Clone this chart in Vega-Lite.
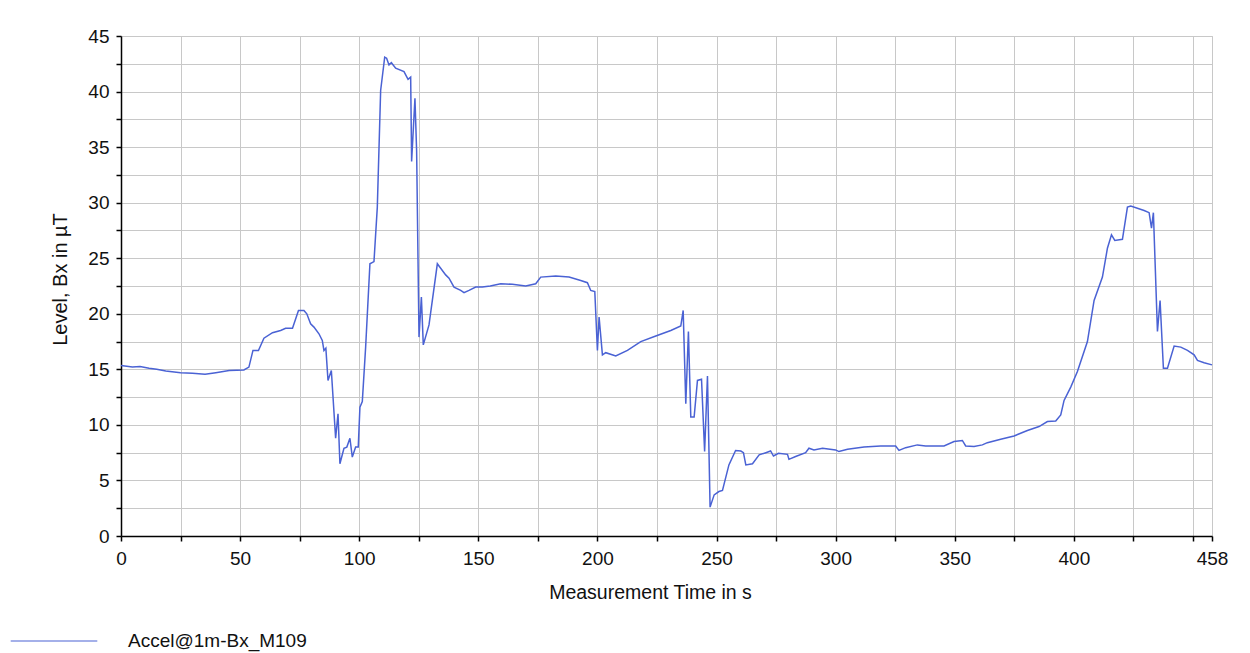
{
  "$schema": "https://vega.github.io/schema/vega-lite/v6.json",
  "autosize": "none",
  "width": 1091,
  "height": 500,
  "padding": {"left": 121, "top": 36, "right": 38, "bottom": 117},
  "background": "white",
  "config": {
    "font": "Liberation Sans",
    "view": {"stroke": "#c8c8c8", "strokeWidth": 1}
  },
  "data": {
    "values": [
      {"t": 0, "v": 15.35}, {"t": 4.8, "v": 15.2}, {"t": 8, "v": 15.25}, {"t": 11.8, "v": 15.1},
      {"t": 15, "v": 15.0}, {"t": 18.8, "v": 14.85}, {"t": 25, "v": 14.7}, {"t": 30, "v": 14.65},
      {"t": 35.3, "v": 14.55}, {"t": 39.8, "v": 14.7}, {"t": 45.4, "v": 14.9}, {"t": 51.6, "v": 14.95},
      {"t": 53.7, "v": 15.2}, {"t": 55.4, "v": 16.7}, {"t": 57.7, "v": 16.7}, {"t": 60, "v": 17.8},
      {"t": 63.6, "v": 18.3}, {"t": 67, "v": 18.5}, {"t": 69.1, "v": 18.7}, {"t": 72, "v": 18.7},
      {"t": 74.5, "v": 20.3}, {"t": 76.8, "v": 20.3}, {"t": 78, "v": 20.0}, {"t": 79.6, "v": 19.1},
      {"t": 81, "v": 18.8}, {"t": 83.1, "v": 18.2}, {"t": 84.5, "v": 17.6}, {"t": 85.2, "v": 16.7},
      {"t": 86, "v": 16.9}, {"t": 86.9, "v": 14.0}, {"t": 88.3, "v": 14.9}, {"t": 90.1, "v": 8.8},
      {"t": 91.1, "v": 11.0}, {"t": 91.9, "v": 6.5}, {"t": 93.6, "v": 7.9}, {"t": 94.8, "v": 8.0},
      {"t": 96.1, "v": 8.8}, {"t": 97.1, "v": 7.1}, {"t": 98.5, "v": 8.0}, {"t": 99.6, "v": 8.0},
      {"t": 100.3, "v": 11.6}, {"t": 101.3, "v": 12.1}, {"t": 102.7, "v": 17.0}, {"t": 104.5, "v": 24.5},
      {"t": 106.2, "v": 24.7}, {"t": 107.6, "v": 29.6}, {"t": 109, "v": 40.1}, {"t": 110.7, "v": 43.1},
      {"t": 111.5, "v": 43.0}, {"t": 112.5, "v": 42.4}, {"t": 113.5, "v": 42.6}, {"t": 115.3, "v": 42.1},
      {"t": 118.8, "v": 41.8}, {"t": 120.5, "v": 41.1}, {"t": 121.6, "v": 41.3}, {"t": 122, "v": 33.7},
      {"t": 123.4, "v": 39.4}, {"t": 124.1, "v": 34.7}, {"t": 125.1, "v": 17.9}, {"t": 126.1, "v": 21.5},
      {"t": 126.9, "v": 17.2}, {"t": 129.3, "v": 19.0}, {"t": 132.8, "v": 24.5}, {"t": 134.2, "v": 24.1},
      {"t": 136.3, "v": 23.5}, {"t": 137.7, "v": 23.2}, {"t": 139.8, "v": 22.4}, {"t": 142.6, "v": 22.1},
      {"t": 144, "v": 21.9}, {"t": 146.1, "v": 22.1}, {"t": 148.9, "v": 22.4}, {"t": 151.7, "v": 22.4},
      {"t": 155, "v": 22.5}, {"t": 159.4, "v": 22.7}, {"t": 164.3, "v": 22.65}, {"t": 169.9, "v": 22.5},
      {"t": 174.1, "v": 22.7}, {"t": 176.2, "v": 23.3}, {"t": 182.5, "v": 23.4}, {"t": 188.1, "v": 23.3},
      {"t": 193, "v": 23.0}, {"t": 195.8, "v": 22.8}, {"t": 197.2, "v": 22.1}, {"t": 198.9, "v": 22.0},
      {"t": 200, "v": 16.7}, {"t": 200.7, "v": 19.7}, {"t": 202.1, "v": 16.3}, {"t": 203.5, "v": 16.5},
      {"t": 207.7, "v": 16.2}, {"t": 212.6, "v": 16.7}, {"t": 218.2, "v": 17.5}, {"t": 224.5, "v": 18.0},
      {"t": 230.8, "v": 18.5}, {"t": 235, "v": 18.9}, {"t": 236, "v": 20.3}, {"t": 237.1, "v": 11.9},
      {"t": 238.2, "v": 18.4}, {"t": 239.2, "v": 10.7}, {"t": 240.6, "v": 10.7}, {"t": 242, "v": 14.0},
      {"t": 243.7, "v": 14.1}, {"t": 245, "v": 7.6}, {"t": 246.2, "v": 14.4}, {"t": 247.3, "v": 2.6},
      {"t": 249, "v": 3.7}, {"t": 251, "v": 4.0}, {"t": 252.5, "v": 4.1}, {"t": 255.2, "v": 6.4},
      {"t": 258, "v": 7.7}, {"t": 260.2, "v": 7.65}, {"t": 261.3, "v": 7.5}, {"t": 262.3, "v": 6.4},
      {"t": 265.1, "v": 6.5}, {"t": 267.9, "v": 7.3}, {"t": 270.7, "v": 7.5}, {"t": 272.7, "v": 7.65},
      {"t": 273.9, "v": 7.2}, {"t": 276, "v": 7.45}, {"t": 279.8, "v": 7.35}, {"t": 280.4, "v": 6.9},
      {"t": 283.2, "v": 7.15}, {"t": 287.4, "v": 7.5}, {"t": 288.8, "v": 7.9}, {"t": 290.9, "v": 7.75},
      {"t": 294.5, "v": 7.9}, {"t": 300, "v": 7.75}, {"t": 301.4, "v": 7.6}, {"t": 305, "v": 7.8},
      {"t": 311.9, "v": 8.0}, {"t": 318.9, "v": 8.1}, {"t": 325.2, "v": 8.1}, {"t": 326.6, "v": 7.7},
      {"t": 329.4, "v": 7.95}, {"t": 334.3, "v": 8.2}, {"t": 337.8, "v": 8.1}, {"t": 345.5, "v": 8.1},
      {"t": 349.7, "v": 8.5}, {"t": 353.2, "v": 8.6}, {"t": 354.6, "v": 8.1}, {"t": 358.1, "v": 8.05},
      {"t": 361.6, "v": 8.2}, {"t": 363.7, "v": 8.4}, {"t": 369.3, "v": 8.7}, {"t": 374.9, "v": 9.0},
      {"t": 380.5, "v": 9.5}, {"t": 385.4, "v": 9.85}, {"t": 388.9, "v": 10.3}, {"t": 392.4, "v": 10.35},
      {"t": 394.5, "v": 10.9}, {"t": 395.9, "v": 12.2}, {"t": 398.7, "v": 13.4}, {"t": 401.5, "v": 14.8},
      {"t": 405.7, "v": 17.5}, {"t": 408.5, "v": 21.2}, {"t": 412, "v": 23.3}, {"t": 414.1, "v": 25.9},
      {"t": 415.8, "v": 27.1}, {"t": 417.2, "v": 26.6}, {"t": 420.4, "v": 26.7}, {"t": 422.5, "v": 29.6},
      {"t": 423.9, "v": 29.7}, {"t": 429.5, "v": 29.3}, {"t": 431.6, "v": 29.1}, {"t": 432.6, "v": 27.7},
      {"t": 433.4, "v": 29.1}, {"t": 435.1, "v": 18.4}, {"t": 436.2, "v": 21.2}, {"t": 437.6, "v": 15.1},
      {"t": 439.3, "v": 15.1}, {"t": 442.1, "v": 17.1}, {"t": 444.9, "v": 17.0}, {"t": 447.7, "v": 16.7},
      {"t": 450.5, "v": 16.3}, {"t": 451.9, "v": 15.8}, {"t": 454.7, "v": 15.6}, {"t": 458, "v": 15.4}
    ]
  },
  "transform": [{"calculate": "'Accel@1m-Bx_M109'", "as": "series"}],
  "mark": {"type": "line", "strokeWidth": 1.5, "interpolate": "linear"},
  "encoding": {
    "x": {
      "field": "t",
      "type": "quantitative",
      "scale": {"domain": [0, 458], "nice": false, "zero": false},
      "axis": {
        "title": "Measurement Time in s",
        "titleX": 529,
        "values": [0, 25, 50, 75, 100, 125, 150, 175, 200, 225, 250, 275, 300, 325, 350, 375, 400, 425, 450, 458],
        "labelExpr": "(datum.value % 50 == 0 && datum.value != 450) || datum.value == 458 ? datum.label : ''",
        "labelFlush": false,
        "labelFontSize": 19,
        "labelColor": "#111",
        "labelPadding": 8,
        "labelOverlap": false,
        "titleFontSize": 19.5,
        "titleFontWeight": "normal",
        "titleColor": "#111",
        "titlePadding": 15,
        "domainColor": "black",
        "domainWidth": 1.5,
        "tickColor": "black",
        "tickWidth": 1.5,
        "tickSize": 5,
        "grid": true,
        "gridColor": "#c8c8c8",
        "gridWidth": 1
      }
    },
    "y": {
      "field": "v",
      "type": "quantitative",
      "scale": {"domain": [0, 45], "nice": false},
      "axis": {
        "title": "Level, Bx in µT",
        "titleY": 243,
        "values": [0, 2.5, 5, 7.5, 10, 12.5, 15, 17.5, 20, 22.5, 25, 27.5, 30, 32.5, 35, 37.5, 40, 42.5, 45],
        "labelExpr": "datum.value % 5 == 0 ? datum.label : ''",
        "labelFlush": false,
        "labelFontSize": 19,
        "labelColor": "#111",
        "labelPadding": 7,
        "labelOverlap": false,
        "titleFontSize": 20,
        "titleFontWeight": "normal",
        "titleColor": "#111",
        "titlePadding": 17,
        "domainColor": "black",
        "domainWidth": 1.5,
        "tickColor": "black",
        "tickWidth": 1.5,
        "tickSize": 5,
        "grid": true,
        "gridColor": "#c8c8c8",
        "gridWidth": 1
      }
    },
    "color": {
      "field": "series",
      "type": "nominal",
      "scale": {"range": ["#4a62d4"]},
      "legend": {
        "title": null,
        "orient": "none",
        "legendX": -111,
        "legendY": 561,
        "symbolType": "stroke",
        "symbolSize": 7500,
        "symbolStrokeWidth": 1.2,
        "labelFontSize": 19,
        "labelLimit": 400,
        "labelColor": "#111",
        "labelOffset": 30
      }
    }
  }
}
